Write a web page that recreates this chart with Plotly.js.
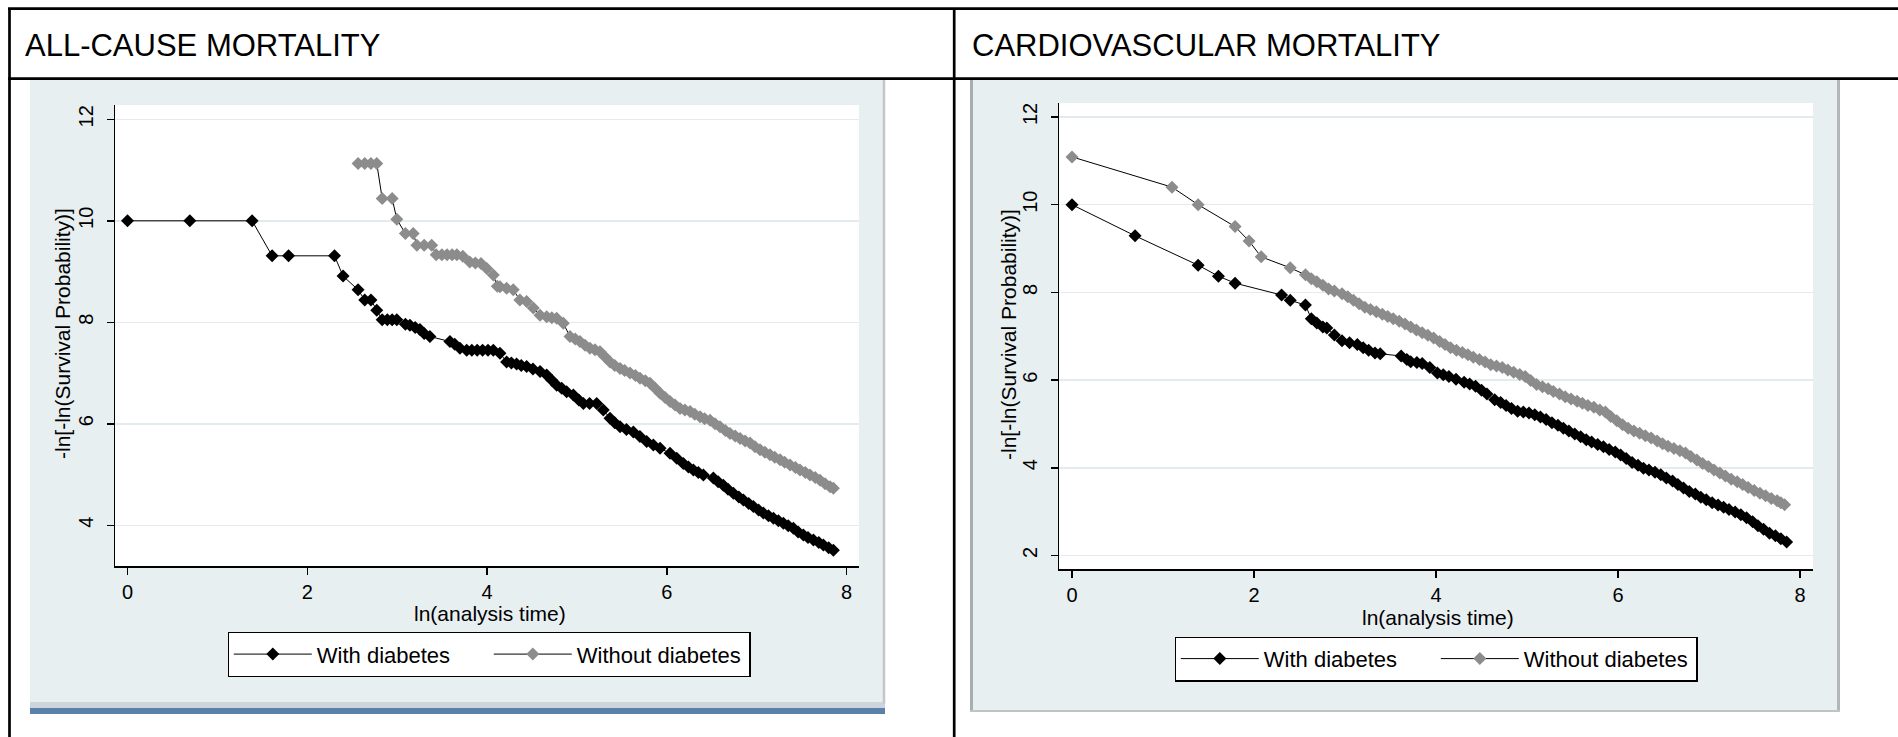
<!DOCTYPE html>
<html>
<head>
<meta charset="utf-8">
<script src="https://cdn.plot.ly/plotly-3.0.1.min.js"></script>
<style>
  html, body { margin: 0; padding: 0; background: #ffffff; }
  #chart { width: 1898px; height: 737px; }
</style>
</head>
<body>
<div id="chart"></div>
<script>
// ---------------- DATA ----------------
// x = ln(analysis time), y = -ln[-ln(Survival Probability)]

// ALL-CAUSE MORTALITY – with diabetes
const acWithX = [0, 0.693, 1.386, 1.609, 1.792, 2.303, 2.398, 2.565, 2.639, 2.708, 2.773, 2.833, 2.890, 2.944, 2.996,
  3.091, 3.142, 3.200, 3.253, 3.300, 3.364, 3.587, 3.640, 3.698, 3.773, 3.830, 3.890, 3.950, 4.010, 4.069, 4.143,
  4.217, 4.270, 4.328, 4.380, 4.440, 4.510, 4.589, 4.663, 4.720, 4.774, 4.830, 4.885, 4.960, 5.020, 5.071, 5.140,
  5.219, 5.293, 5.367, 5.420, 5.479, 5.550, 5.627, 5.700, 5.775, 5.850, 5.924, 6.035, 6.110, 6.183, 6.240, 6.295,
  6.350, 6.406, 6.517, 6.570, 6.628, 6.680, 6.740, 6.800, 6.851, 6.910, 6.962, 7.020, 7.073, 7.130, 7.185, 7.240,
  7.296, 7.350, 7.407, 7.460, 7.518, 7.570, 7.630, 7.690, 7.741, 7.800, 7.852];
const acWithY = [10.00, 10.00, 10.00, 9.31, 9.31, 9.31, 8.91, 8.64, 8.44, 8.44, 8.24, 8.05, 8.05, 8.05, 8.05,
  7.96, 7.94, 7.90, 7.86, 7.78, 7.72, 7.62, 7.57, 7.49, 7.45, 7.45, 7.45, 7.45, 7.45, 7.45, 7.39,
  7.22, 7.20, 7.18, 7.15, 7.13, 7.08, 7.03, 6.96, 6.86, 6.76, 6.70, 6.63, 6.57, 6.47, 6.40, 6.40,
  6.40, 6.27, 6.11, 6.02, 5.94, 5.89, 5.84, 5.75, 5.65, 5.58, 5.52, 5.42, 5.32, 5.22, 5.15, 5.09,
  5.04, 4.99, 4.93, 4.86, 4.79, 4.71, 4.63, 4.56, 4.50, 4.43, 4.37, 4.30, 4.24, 4.19, 4.14, 4.09,
  4.04, 3.99, 3.94, 3.87, 3.81, 3.76, 3.71, 3.66, 3.61, 3.56, 3.51];

// ALL-CAUSE MORTALITY – without diabetes
const acWithoutX = [2.565, 2.639, 2.708, 2.773, 2.833, 2.944, 2.996, 3.091, 3.178, 3.219, 3.300, 3.384, 3.434, 3.497,
  3.555, 3.611, 3.664, 3.730, 3.807, 3.870, 3.932, 3.996, 4.069, 4.113, 4.143, 4.217, 4.291, 4.365, 4.440, 4.514,
  4.589, 4.663, 4.720, 4.774, 4.848, 4.922, 4.980, 5.033, 5.090, 5.144, 5.200, 5.256, 5.310, 5.367, 5.420, 5.479,
  5.530, 5.590, 5.650, 5.701, 5.760, 5.812, 5.870, 5.924, 5.980, 6.035, 6.090, 6.146, 6.200, 6.258, 6.310, 6.369,
  6.420, 6.480, 6.535, 6.591, 6.650, 6.702, 6.760, 6.814, 6.870, 6.925, 6.980, 7.036, 7.090, 7.147, 7.200, 7.259,
  7.310, 7.370, 7.430, 7.481, 7.540, 7.592, 7.650, 7.704, 7.760, 7.815, 7.852];
const acWithoutY = [11.13, 11.13, 11.13, 11.13, 10.44, 10.44, 10.03, 9.75, 9.75, 9.52, 9.52, 9.52, 9.33, 9.33,
  9.33, 9.33, 9.33, 9.30, 9.19, 9.17, 9.16, 9.06, 8.93, 8.71, 8.70, 8.67, 8.64, 8.44, 8.41, 8.28,
  8.14, 8.11, 8.09, 8.08, 7.98, 7.72, 7.67, 7.62, 7.55, 7.49, 7.46, 7.42, 7.32, 7.22, 7.15, 7.09,
  7.05, 7.00, 6.95, 6.90, 6.85, 6.80, 6.70, 6.60, 6.52, 6.44, 6.37, 6.30, 6.27, 6.24, 6.19, 6.14,
  6.10, 6.07, 6.00, 5.94, 5.87, 5.81, 5.76, 5.71, 5.66, 5.62, 5.55, 5.49, 5.44, 5.39, 5.34, 5.29,
  5.24, 5.19, 5.14, 5.09, 5.04, 4.99, 4.94, 4.89, 4.82, 4.76, 4.73];

// CARDIOVASCULAR MORTALITY – with diabetes
const cvWithX = [0, 0.693, 1.386, 1.609, 1.792, 2.303, 2.398, 2.565, 2.630, 2.690, 2.757, 2.800, 2.883, 2.967, 3.050,
  3.135, 3.200, 3.260, 3.330, 3.387, 3.617, 3.680, 3.722, 3.790, 3.848, 3.932, 4.015, 4.080, 4.142, 4.220, 4.309,
  4.370, 4.435, 4.500, 4.560, 4.645, 4.710, 4.770, 4.830, 4.897, 4.960, 5.022, 5.085, 5.148, 5.210, 5.274, 5.340,
  5.400, 5.460, 5.525, 5.590, 5.651, 5.710, 5.777, 5.840, 5.903, 5.970, 6.029, 6.090, 6.155, 6.220, 6.280, 6.340,
  6.407, 6.470, 6.532, 6.600, 6.658, 6.720, 6.784, 6.850, 6.910, 6.970, 7.035, 7.100, 7.161, 7.220, 7.287, 7.350,
  7.413, 7.480, 7.538, 7.600, 7.665, 7.730, 7.790, 7.853];
const cvWithY = [10.00, 9.29, 8.62, 8.37, 8.21, 7.94, 7.82, 7.71, 7.40, 7.30, 7.21, 7.19, 7.03, 6.90, 6.85,
  6.81, 6.74, 6.68, 6.62, 6.60, 6.55, 6.47, 6.42, 6.40, 6.38, 6.29, 6.16, 6.12, 6.08, 6.02, 5.95,
  5.91, 5.86, 5.77, 5.68, 5.55, 5.49, 5.42, 5.35, 5.29, 5.27, 5.25, 5.21, 5.16, 5.10, 5.03, 4.97,
  4.90, 4.84, 4.77, 4.71, 4.64, 4.59, 4.53, 4.48, 4.42, 4.36, 4.29, 4.21, 4.12, 4.06, 3.99, 3.95,
  3.90, 3.84, 3.77, 3.70, 3.62, 3.54, 3.46, 3.40, 3.33, 3.27, 3.20, 3.15, 3.10, 3.05, 2.99, 2.93,
  2.86, 2.77, 2.68, 2.60, 2.51, 2.45, 2.38, 2.31];

// CARDIOVASCULAR MORTALITY – without diabetes
const cvWithoutX = [0, 1.099, 1.386, 1.792, 1.946, 2.079, 2.398, 2.565, 2.630, 2.690, 2.757, 2.820, 2.883, 2.967,
  3.030, 3.093, 3.155, 3.218, 3.280, 3.344, 3.410, 3.470, 3.530, 3.596, 3.660, 3.722, 3.785, 3.848, 3.910, 3.974,
  4.040, 4.099, 4.160, 4.225, 4.290, 4.351, 4.410, 4.477, 4.540, 4.602, 4.665, 4.728, 4.790, 4.854, 4.920, 4.980,
  5.040, 5.105, 5.170, 5.232, 5.290, 5.357, 5.420, 5.484, 5.550, 5.609, 5.670, 5.735, 5.800, 5.861, 5.920, 5.987,
  6.050, 6.112, 6.175, 6.238, 6.300, 6.364, 6.430, 6.490, 6.550, 6.615, 6.680, 6.742, 6.800, 6.867, 6.930, 6.993,
  7.055, 7.119, 7.180, 7.245, 7.310, 7.370, 7.430, 7.497, 7.560, 7.622, 7.685, 7.748, 7.790, 7.831];
const cvWithoutY = [11.09, 10.40, 10.00, 9.50, 9.17, 8.81, 8.56, 8.40, 8.31, 8.24, 8.16, 8.08, 8.03, 7.97,
  7.90, 7.82, 7.74, 7.66, 7.61, 7.56, 7.50, 7.45, 7.40, 7.34, 7.28, 7.21, 7.14, 7.08, 7.02, 6.96,
  6.88, 6.81, 6.74, 6.68, 6.63, 6.58, 6.52, 6.47, 6.41, 6.35, 6.32, 6.29, 6.23, 6.18, 6.13, 6.08,
  5.99, 5.90, 5.85, 5.80, 5.74, 5.68, 5.62, 5.57, 5.52, 5.47, 5.42, 5.38, 5.32, 5.27, 5.17, 5.07,
  4.98, 4.90, 4.84, 4.79, 4.73, 4.68, 4.61, 4.55, 4.49, 4.44, 4.39, 4.34, 4.26, 4.18, 4.10, 4.03,
  3.95, 3.88, 3.81, 3.74, 3.68, 3.62, 3.55, 3.48, 3.42, 3.36, 3.30, 3.25, 3.20, 3.16];

// Tick values and labels
const xTicks = [0, 2, 4, 6, 8];
const acYTicks = [4, 6, 8, 10, 12];
const cvYTicks = [2, 4, 6, 8, 10, 12];
const panelTitles = ['ALL-CAUSE MORTALITY', 'CARDIOVASCULAR MORTALITY'];
const seriesNames = ['With diabetes', 'Without diabetes'];
const xTitle = 'ln(analysis time)';
const yTitle = '-ln[-ln(Survival Probability)]';

// ---------------- LAYOUT HELPERS ----------------
const W = 1898, H = 737;
const fx = p => p / W;
const fy = p => 1 - p / H;
const FONT = 'Arial, "Liberation Sans", sans-serif';
const PANEL = '#e8eff1';

function rect(x0, y0, x1, y1, fill, layer) {
  return {type: 'rect', xref: 'paper', yref: 'paper', x0: fx(x0), x1: fx(x1), y0: fy(y1), y1: fy(y0),
          fillcolor: fill, line: {width: 0}, layer: layer || 'below'};
}
function line(x0, y0, x1, y1, color, width, layer) {
  return {type: 'line', xref: 'paper', yref: 'paper', x0: fx(x0), x1: fx(x1), y0: fy(y0), y1: fy(y1),
          line: {color: color, width: width}, layer: layer || 'below'};
}

function series(x, y, name, color, xa, ya, lg) {
  return {
    type: 'scatter', mode: 'lines+markers', x: x, y: y, name: name,
    xaxis: xa, yaxis: ya, legend: lg, hoverinfo: 'skip',
    line: {color: '#000000', width: 1},
    marker: {symbol: 'diamond', size: 10, color: color, line: {width: 0}}
  };
}

const traces = [
  series(acWithX, acWithY, seriesNames[0], '#000000', 'x', 'y', 'legend'),
  series(acWithoutX, acWithoutY, seriesNames[1], '#8c8c8c', 'x', 'y', 'legend'),
  series(cvWithX, cvWithY, seriesNames[0], '#000000', 'x2', 'y2', 'legend2'),
  series(cvWithoutX, cvWithoutY, seriesNames[1], '#8c8c8c', 'x2', 'y2', 'legend2')
];

function xAxis(domain, range, anchor) {
  return {
    domain: domain, range: range, anchor: anchor, tickvals: xTicks, ticktext: xTicks.map(String),
    ticks: 'outside', ticklen: 7, tickwidth: 1.5, tickcolor: '#000',
    showline: true, linecolor: '#000', linewidth: 1.5, mirror: false,
    showgrid: false, zeroline: false, fixedrange: true,
    tickfont: {family: FONT, size: 20, color: '#000'},
    ticklabelstandoff: 0
  };
}
function yAxis(domain, range, anchor, ticks) {
  return {
    domain: domain, range: range, anchor: anchor, tickvals: ticks, ticktext: ticks.map(String),
    tickangle: -90,
    ticks: 'outside', ticklen: 7, tickwidth: 1.5, tickcolor: '#000',
    showline: true, linecolor: '#000', linewidth: 1.5,
    showgrid: true, gridcolor: '#e3ebee', gridwidth: 1.5, zeroline: false, fixedrange: true,
    tickfont: {family: FONT, size: 20, color: '#000'},
    ticklabelstandoff: 6
  };
}

const shapes = [
  // left graph region
  rect(30, 80, 885, 704, PANEL),
  line(884, 80, 884, 704, '#c2c6c8', 2.5),
  line(30, 703, 885, 703, '#c8cccf', 1.5),
  rect(30, 704, 885, 708, '#ccd5dd'),
  rect(30, 708, 885, 714, '#5a82a6'),
  rect(115, 105, 859, 566, '#ffffff'),
  // right graph region
  rect(970, 80, 1840, 712, PANEL),
  line(971.5, 80, 971.5, 712, '#a9adb0', 3),
  line(1838.5, 80, 1838.5, 712, '#b3b7ba', 3),
  line(970, 711, 1840, 711, '#c0c4c7', 2),
  rect(1059, 103, 1813, 569, '#ffffff'),
  // table rules
  line(8, 8.7, 1898, 8.7, '#000', 2.7, 'above'),
  line(8, 78.7, 1898, 78.7, '#000', 2.7, 'above'),
  line(9.5, 8, 9.5, 737, '#000', 2.7, 'above'),
  line(954.2, 8, 954.2, 737, '#000', 2.7, 'above')
];

function label(text, x, y, size, opts) {
  return Object.assign({xref: 'paper', yref: 'paper', x: fx(x), y: fy(y), xanchor: 'center', yanchor: 'middle',
    text: text, showarrow: false, font: {family: FONT, size: size, color: '#000'}}, opts || {});
}

const annotations = [
  label(panelTitles[0], 23, 45, 31, {xanchor: 'left'}),
  label(panelTitles[1], 970, 45, 31, {xanchor: 'left'}),
  // axis titles
  label(xTitle, 490, 613, 21),
  label(xTitle, 1438, 617, 21),
  label(yTitle, 63, 334, 21, {textangle: -90}),
  label(yTitle, 1009, 334, 21, {textangle: -90})
];

function legendBox(cx, cy) {
  return {
    x: fx(cx), y: fy(cy), xref: 'paper', yref: 'paper', xanchor: 'center', yanchor: 'middle',
    orientation: 'h', bgcolor: '#ffffff', bordercolor: '#000', borderwidth: 1.3,
    font: {family: FONT, size: 22, color: '#000'}, traceorder: 'normal',
    itemclick: false, itemdoubleclick: false, itemwidth: 78, entrywidth: 167
  };
}

const layout = {
  width: W, height: H,
  margin: {l: 0, r: 0, t: 0, b: 0, autoexpand: false},
  paper_bgcolor: '#ffffff', plot_bgcolor: 'rgba(0,0,0,0)',
  showlegend: true,
  xaxis: xAxis([fx(115), fx(859)], [-0.139, 8.137], 'y'),
  yaxis: yAxis([fy(566), fy(105)], [3.198, 12.282], 'x', acYTicks),
  xaxis2: xAxis([fx(1059), fx(1813)], [-0.143, 8.143], 'y2'),
  yaxis2: yAxis([fy(569), fy(103)], [1.692, 12.319], 'x2', cvYTicks),
  legend: legendBox(489, 654.5),
  legend2: legendBox(1436, 659),
  shapes: shapes,
  annotations: annotations
};

Plotly.newPlot('chart', traces, layout, {displayModeBar: false, staticPlot: true});
</script>
</body>
</html>
